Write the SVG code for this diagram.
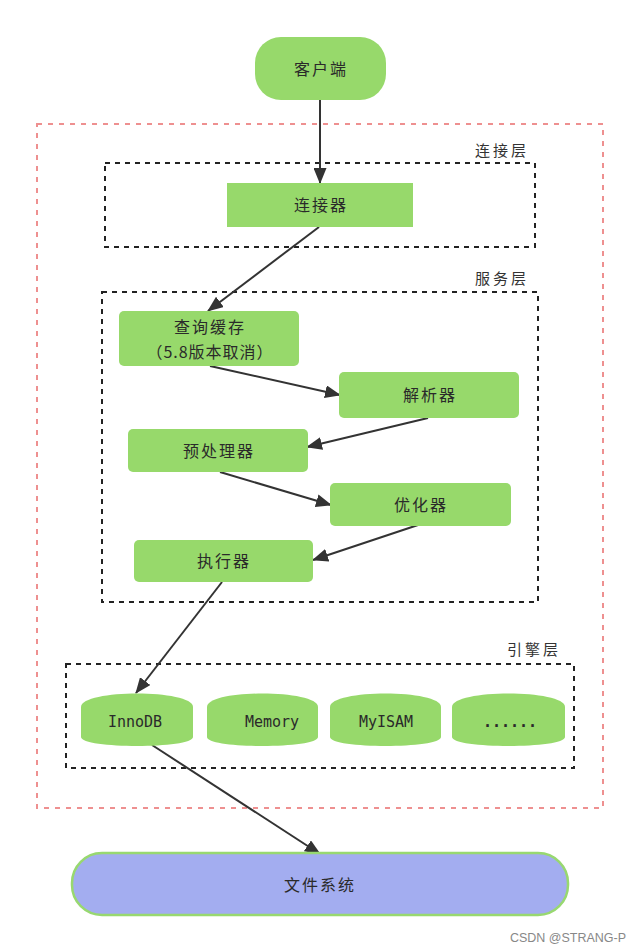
<svg xmlns="http://www.w3.org/2000/svg" width="640" height="952" viewBox="0 0 640 952">
  <style>
    .node { fill: #97d96b; }
    .cn { font-family: "Noto Sans CJK SC", sans-serif; font-size: 16px; fill: #2a2a2a; text-anchor: middle; letter-spacing: 2px; }
    .layer-label { font-family: "Noto Sans CJK SC", sans-serif; font-size: 15px; fill: #333; text-anchor: middle; letter-spacing: 3px; }
    .en { font-family: "DejaVu Sans Mono", monospace; font-size: 15px; fill: #2a2a2a; text-anchor: middle; }
    .layer { fill: none; stroke: #222; stroke-width: 2; stroke-dasharray: 5 5; }
    .outer { fill: none; stroke: #ee9090; stroke-width: 2; stroke-dasharray: 5 6; }
    .edge { fill: none; stroke: #333; stroke-width: 2; marker-end: url(#arrow); }
  </style>
  <defs>
    <marker id="arrow" viewBox="0 0 16 13" refX="15" refY="6.5" markerWidth="16" markerHeight="13" markerUnits="userSpaceOnUse" orient="auto">
      <path d="M0,0 L16,6.5 L0,13 Z" fill="#333"/>
    </marker>
  </defs>
  <rect width="640" height="952" fill="#fff"/>

  <g id="layers">
    <rect class="outer" x="37" y="124" width="566" height="684"/>
    <g id="layer-connect">
      <rect class="layer" x="105" y="163" width="430" height="84"/>
      <text class="layer-label" x="502" y="156">连接层</text>
    </g>
    <g id="layer-service">
      <rect class="layer" x="102" y="292" width="436" height="310"/>
      <text class="layer-label" x="502" y="284">服务层</text>
    </g>
    <g id="layer-engine">
      <rect class="layer" x="66" y="664" width="508" height="104"/>
      <text class="layer-label" x="534" y="655">引擎层</text>
    </g>
  </g>

  <g id="connectors">
    <line class="edge" x1="320" y1="100" x2="320" y2="183"/>
    <line class="edge" x1="319" y1="227" x2="208" y2="311"/>
    <line class="edge" x1="210" y1="366" x2="340" y2="395"/>
    <line class="edge" x1="428" y1="418" x2="307" y2="447"/>
    <line class="edge" x1="220" y1="472" x2="331" y2="505"/>
    <line class="edge" x1="418" y1="525" x2="313" y2="560"/>
    <line class="edge" x1="222" y1="582" x2="136" y2="693"/>
    <line class="edge" x1="152" y1="745" x2="320" y2="854"/>
  </g>

  <g id="client">
    <rect class="node" x="255" y="37" width="131" height="63" rx="26"/>
    <text class="cn" x="321" y="75">客户端</text>
  </g>
  <g id="connector">
    <rect class="node" x="227" y="183" width="186" height="44"/>
    <text class="cn" x="321" y="211">连接器</text>
  </g>
  <g id="query-cache">
    <rect class="node" x="119" y="311" width="180" height="55" rx="5"/>
    <text class="cn" x="210" y="333">查询缓存</text>
    <text class="cn" x="210" y="358" style="letter-spacing:1px">（5.8版本取消）</text>
  </g>
  <g id="parser">
    <rect class="node" x="339" y="372" width="180" height="46" rx="5"/>
    <text class="cn" x="430" y="401">解析器</text>
  </g>
  <g id="preprocessor">
    <rect class="node" x="128" y="429" width="180" height="43" rx="5"/>
    <text class="cn" x="219" y="457">预处理器</text>
  </g>
  <g id="optimizer">
    <rect class="node" x="330" y="483" width="181" height="43" rx="5"/>
    <text class="cn" x="421" y="511">优化器</text>
  </g>
  <g id="executor">
    <rect class="node" x="134" y="540" width="179" height="42" rx="5"/>
    <text class="cn" x="224" y="567">执行器</text>
  </g>

  <g id="innodb">
    <path class="node" d="M81,707 C81,689 193,689 193,707 L193,737 C193,749 81,749 81,737 Z"/>
    <text class="en" x="135" y="727">InnoDB</text>
  </g>
  <g id="memory">
    <path class="node" d="M207,707 C207,689 318,689 318,707 L318,737 C318,749 207,749 207,737 Z"/>
    <text class="en" x="272" y="727">Memory</text>
  </g>
  <g id="myisam">
    <path class="node" d="M330,707 C330,689 441,689 441,707 L441,737 C441,749 330,749 330,737 Z"/>
    <text class="en" x="386" y="727">MyISAM</text>
  </g>
  <g id="others">
    <path class="node" d="M452,707 C452,689 565,689 565,707 L565,737 C565,749 452,749 452,737 Z"/>
    <text class="en" x="510" y="727" style="font-weight:bold">......</text>
  </g>

  <g id="filesystem">
    <rect x="72" y="853" width="496" height="62" rx="30" fill="#a3adf0" stroke="#98d870" stroke-width="2.5"/>
    <text class="cn" x="320" y="891">文件系统</text>
  </g>

  <text x="568" y="942" font-family="Liberation Sans, sans-serif" font-size="12.5" fill="#888" text-anchor="middle">CSDN @STRANG-P</text>
</svg>
